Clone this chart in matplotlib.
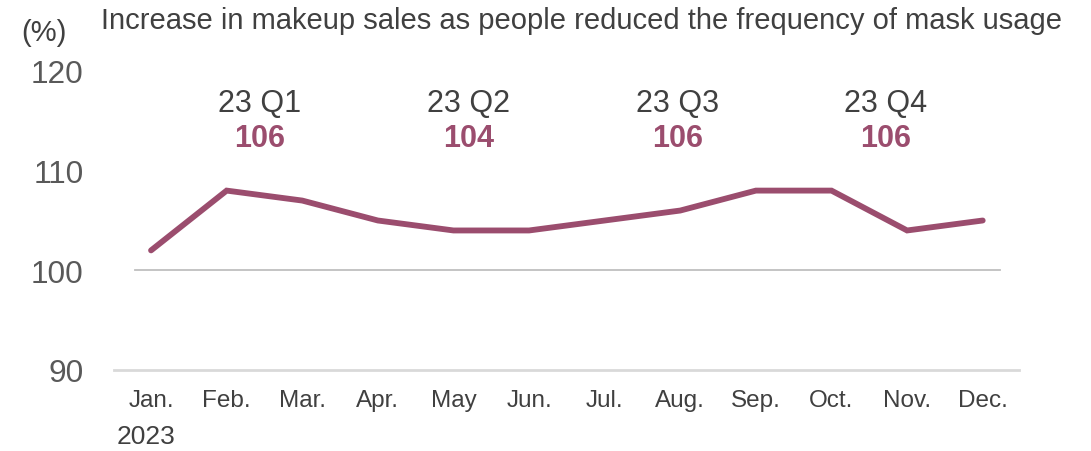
import matplotlib.pyplot as plt

plt.rcParams['font.family'] = ['Liberation Sans', 'DejaVu Sans']

months = ["Jan.", "Feb.", "Mar.", "Apr.", "May", "Jun.",
          "Jul.", "Aug.", "Sep.", "Oct.", "Nov.", "Dec."]
sales = [102, 108, 107, 105, 104, 104, 105, 106, 108, 108, 104, 105]
quarters = ["23 Q1", "23 Q2", "23 Q3", "23 Q4"]
quarter_vals = [106, 104, 106, 106]
yticks = [90, 100, 110, 120]

LINE = "#9b4d6e"
GREY = "#595959"

fig = plt.figure(figsize=(10.91, 4.52), dpi=100)
ax = fig.add_axes([114 / 1091, 1 - 371 / 452, (1019 - 114) / 1091, (371 - 72) / 452])

x = range(len(months))
ax.axhline(100, xmin=(135 - 114) / 905, xmax=(1000 - 114) / 905, color="#bfbfbf", lw=1.3, zorder=1)
ax.plot(x, sales, color=LINE, lw=4.2, solid_capstyle="round", solid_joinstyle="miter", zorder=3)

ax.set_xlim(-0.49, 11.48)
ax.set_ylim(90, 120)
ax.set_yticks(yticks)
ax.set_xticks(list(x))
ax.set_xticklabels(months)
ax.tick_params(axis="y", length=0, labelsize=22.8, labelcolor=GREY, pad=22)
ax.tick_params(axis="x", length=0, labelsize=17.5, labelcolor="#404040", pad=14)

for s in ["top", "right", "left"]:
    ax.spines[s].set_visible(False)
ax.spines["bottom"].set_color("#d9d9d9")
ax.spines["bottom"].set_linewidth(2)

# quarterly averages
qx = [1.44, 4.2, 6.97, 9.72]
for xi, q, v in zip(qx, quarters, quarter_vals):
    ax.text(xi, 116.8, q, ha="center", va="center", fontsize=22, color="#404040", clip_on=False)
    ax.text(xi, 113.3, str(v), ha="center", va="center", fontsize=22, fontweight="bold",
            color=LINE, clip_on=False)

fig.text(146 / 1091, 1 - 437 / 452, "2023", ha="center", va="center", fontsize=19, color="#404040")
fig.text(44 / 1091, 1 - 33 / 452, "(%)", ha="center", va="center", fontsize=21, color="#404040")
fig.text(101 / 1091, 1 - 21 / 452,
         "Increase in makeup sales as people reduced the frequency of mask usage",
         ha="left", va="center", fontsize=21, color="#404040")

fig.savefig("out.png", dpi=100)
